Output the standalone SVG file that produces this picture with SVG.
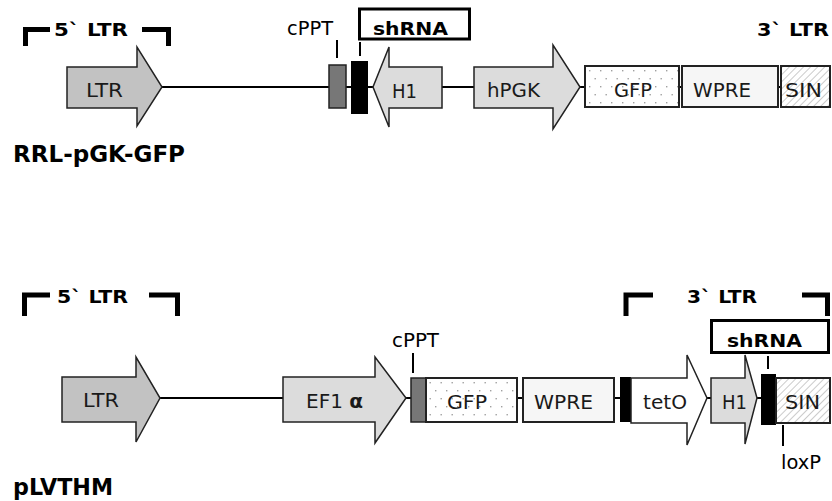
<svg xmlns="http://www.w3.org/2000/svg" width="832" height="501" viewBox="0 0 832 501">
<defs>
<pattern id="dots" width="11" height="16" patternUnits="userSpaceOnUse" x="586" y="67">
<rect width="11" height="16" fill="#fff"/>
<rect x="3" y="3" width="1.4" height="1.4" fill="#a0a0a0"/>
<rect x="8.5" y="11" width="1.4" height="1.4" fill="#a0a0a0"/>
</pattern>
<pattern id="hatch" width="5" height="5" patternUnits="userSpaceOnUse" patternTransform="rotate(45)">
<rect width="5" height="5" fill="#fff"/>
<line x1="0" y1="0" x2="0" y2="5" stroke="#a8a8a8" stroke-width="1.2"/>
</pattern>
<style>
text{font-family:"DejaVu Sans",Verdana,sans-serif}
.lbl{font-size:20px;fill:#1a1a1a}
.bold{font-weight:bold;fill:#000}
.title{font-size:23px}
.ltrlab{font-size:18px}
.small{font-size:19px;fill:#000}
.arrow{stroke:#222;stroke-width:1.5;stroke-linejoin:miter}
.box{stroke:#222;stroke-width:2}
.bracket{fill:none;stroke:#000;stroke-width:5}
.tick{stroke:#000;stroke-width:2}
.wire{stroke:#000;stroke-width:2}
.shbox{fill:#fff;stroke:#000;stroke-width:3}
</style>
</defs>
<rect width="832" height="501" fill="#fff"/>

<!-- connectors -->
<g id="connectors">
<line class="wire" x1="160" y1="87" x2="781" y2="87"/>
<line class="wire" x1="158" y1="398" x2="776" y2="398"/>
</g>

<!-- Top construct: RRL-pGK-GFP -->
<g id="top-5ltr-bracket">
<path class="bracket" d="M25.5,46 V29.5 H50"/>
<path class="bracket" d="M142,29.5 H168.5 V46"/>
<text class="bold ltrlab" x="54" y="36" textLength="74" lengthAdjust="spacingAndGlyphs">5` LTR</text>
</g>
<g id="top-3ltr-label">
<text class="bold ltrlab" x="757" y="36" textLength="72" lengthAdjust="spacingAndGlyphs">3` LTR</text>
</g>
<g id="top-ltr">
<polygon class="arrow" fill="#c2c2c2" points="67,67 137,67 137,47 162,87 137,126 137,108 67,108"/>
<text class="lbl" x="86" y="97" textLength="37" lengthAdjust="spacingAndGlyphs">LTR</text>
</g>
<g id="top-cppt">
<rect x="329" y="65" width="17" height="43" fill="#777" stroke="#222" stroke-width="1.5"/>
<line class="tick" x1="337" y1="40" x2="337" y2="58"/>
<text class="small" x="287" y="35" textLength="46" lengthAdjust="spacingAndGlyphs">cPPT</text>
</g>
<g id="top-shrna">
<rect x="351" y="61" width="17" height="53" fill="#000"/>
<line class="tick" x1="360" y1="42" x2="360" y2="56"/>
<rect class="shbox" x="359.5" y="9" width="110" height="30"/>
<text class="bold" font-size="18" x="373" y="35" textLength="75" lengthAdjust="spacingAndGlyphs">shRNA</text>
</g>
<g id="top-h1">
<polygon class="arrow" fill="#dcdcdc" points="442,67 389,67 389,47 373,87 389,127 389,108 442,108"/>
<text class="lbl" x="392" y="98" textLength="25" lengthAdjust="spacingAndGlyphs">H1</text>
</g>
<g id="top-hpgk">
<polygon class="arrow" fill="#dcdcdc" points="474,67 553,67 553,45 580,87 553,129 553,108 474,108"/>
<text class="lbl" x="487" y="97" textLength="53" lengthAdjust="spacingAndGlyphs">hPGK</text>
</g>
<g id="top-gfp">
<rect class="box" x="585" y="66" width="94" height="41" fill="url(#dots)"/>
<text class="lbl" x="614" y="97" textLength="38" lengthAdjust="spacingAndGlyphs">GFP</text>
</g>
<g id="top-wpre">
<rect class="box" x="682" y="66" width="96" height="41" fill="#f6f6f6"/>
<text class="lbl" x="693" y="97" textLength="58" lengthAdjust="spacingAndGlyphs">WPRE</text>
</g>
<g id="top-sin">
<rect class="box" x="781" y="66" width="49" height="41" fill="url(#hatch)"/>
<text class="lbl" x="785" y="97" textLength="37" lengthAdjust="spacingAndGlyphs">SIN</text>
</g>
<g id="top-title">
<text class="bold title" x="13" y="162" textLength="172" lengthAdjust="spacingAndGlyphs">RRL-pGK-GFP</text>
</g>

<!-- Bottom construct: pLVTHM -->
<g id="bot-5ltr-bracket">
<path class="bracket" d="M24.5,316 V295 H50"/>
<path class="bracket" d="M149,295 H177.5 V316"/>
<text class="bold ltrlab" x="57" y="303" textLength="71" lengthAdjust="spacingAndGlyphs">5` LTR</text>
</g>
<g id="bot-3ltr-bracket">
<path class="bracket" d="M626,316 V295 H653"/>
<path class="bracket" d="M802,295 H827.5 V316"/>
<text class="bold ltrlab" x="687" y="303" textLength="70" lengthAdjust="spacingAndGlyphs">3` LTR</text>
</g>
<g id="bot-ltr">
<polygon class="arrow" fill="#c2c2c2" points="62,377 136,377 136,357 160,398 136,442 136,422 62,422"/>
<text class="lbl" x="83" y="407" textLength="36" lengthAdjust="spacingAndGlyphs">LTR</text>
</g>
<g id="bot-ef1a">
<polygon class="arrow" fill="#dcdcdc" points="283,377 375,377 375,357 406,398 375,443 375,422 283,422"/>
<text class="lbl" x="306" y="408" textLength="57" lengthAdjust="spacingAndGlyphs">EF1 <tspan font-weight="bold">α</tspan></text>
</g>
<g id="bot-cppt">
<rect x="411" y="378" width="15" height="44" fill="#777" stroke="#222" stroke-width="1.5"/>
<line class="tick" x1="413" y1="353" x2="413" y2="373"/>
<text class="small" x="392" y="347" textLength="47" lengthAdjust="spacingAndGlyphs">cPPT</text>
</g>
<g id="bot-gfp">
<rect class="box" x="426" y="378" width="91" height="44" fill="url(#dots)"/>
<text class="lbl" x="447" y="409" textLength="40" lengthAdjust="spacingAndGlyphs">GFP</text>
</g>
<g id="bot-wpre">
<rect class="box" x="523" y="378" width="91" height="44" fill="#f6f6f6"/>
<text class="lbl" x="534" y="409" textLength="59" lengthAdjust="spacingAndGlyphs">WPRE</text>
</g>
<g id="bot-block">
<rect x="620" y="377" width="11" height="45" fill="#000"/>
</g>
<g id="bot-teto">
<polygon class="arrow" fill="#fff" points="631,378 687,378 687,355 707,398 687,445 687,423 631,423"/>
<text class="lbl" x="643" y="409" textLength="44" lengthAdjust="spacingAndGlyphs">tetO</text>
</g>
<g id="bot-h1">
<polygon class="arrow" fill="#dcdcdc" points="711,378 745,378 745,355 757,398 745,444 745,423 711,423"/>
<text class="lbl" x="722" y="409" textLength="25" lengthAdjust="spacingAndGlyphs">H1</text>
</g>
<g id="bot-shrna">
<rect class="shbox" x="711.5" y="320.5" width="117" height="32"/>
<text class="bold" font-size="18" x="727" y="347" textLength="75" lengthAdjust="spacingAndGlyphs">shRNA</text>
<line class="tick" x1="768" y1="356" x2="768" y2="369"/>
<rect x="761" y="374" width="15" height="51" fill="#000"/>
</g>
<g id="bot-sin">
<rect class="box" x="776" y="378" width="54" height="45" fill="url(#hatch)"/>
<text class="lbl" x="785" y="409" textLength="35" lengthAdjust="spacingAndGlyphs">SIN</text>
</g>
<g id="bot-loxp">
<line class="tick" x1="783" y1="425" x2="783" y2="446"/>
<text class="small" x="781" y="469" textLength="40" lengthAdjust="spacingAndGlyphs">loxP</text>
</g>
<g id="bot-title">
<text class="bold title" x="13" y="495" textLength="100" lengthAdjust="spacingAndGlyphs">pLVTHM</text>
</g>
</svg>
